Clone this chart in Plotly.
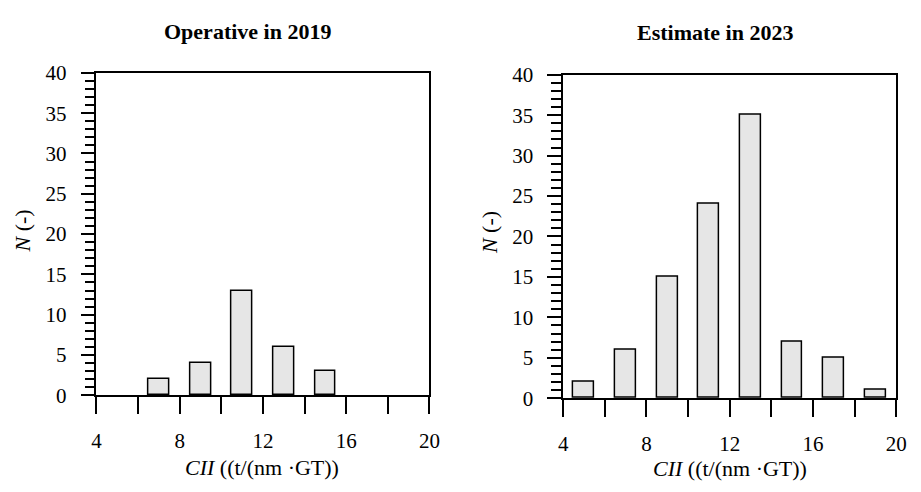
import plotly.graph_objects as go

W, H = 921, 492

# Data
bins_2019 = [7, 9, 11, 13, 15]
counts_2019 = [2, 4, 13, 6, 3]
bins_2023 = [5, 7, 9, 11, 13, 15, 17, 19]
counts_2023 = [2, 6, 15, 24, 35, 7, 5, 1]
x_tickvals = [4, 6, 8, 10, 12, 14, 16, 18, 20]
x_ticktext = ["4", "", "8", "", "12", "", "16", "", "20"]
titles = ["Operative in 2019", "Estimate in 2023"]

FONT = "Liberation Serif, Times New Roman, serif"

def px(x):
    return x / W

def py(y):
    return 1 - y / H

fig = go.Figure()
bar_style = dict(marker=dict(color="#e6e6e6", line=dict(color="black", width=1.5)),
                 width=1.0, showlegend=False)
fig.add_trace(go.Bar(x=bins_2019, y=counts_2019, xaxis="x", yaxis="y", **bar_style))
fig.add_trace(go.Bar(x=bins_2023, y=counts_2023, xaxis="x2", yaxis="y2", **bar_style))

xcommon = dict(range=[4, 20], tickvals=x_tickvals, ticktext=x_ticktext,
               ticks="outside", ticklen=17, tickwidth=1.5, tickcolor="black",
               ticklabelstandoff=9,
               showline=True, linecolor="black", linewidth=1.5, mirror=True,
               showgrid=False, zeroline=False,
               tickfont=dict(family=FONT, size=21, color="black"))
ycommon = dict(range=[0, 40], dtick=5, tick0=0,
               ticks="outside", ticklen=14, tickwidth=1.5, tickcolor="black",
               ticklabelstandoff=10,
               minor=dict(dtick=1, ticks="outside", ticklen=10, tickwidth=1.5, tickcolor="black"),
               showline=True, linecolor="black", linewidth=1.5, mirror=True,
               showgrid=False, zeroline=False,
               tickfont=dict(family=FONT, size=21, color="black"))

fig.update_layout(
    width=W, height=H,
    margin=dict(l=0, r=0, t=0, b=0),
    paper_bgcolor="white", plot_bgcolor="white",
    bargap=0,
    xaxis=dict(domain=[px(93), px(432)], anchor="y", **xcommon),
    yaxis=dict(domain=[py(403), py(64)], anchor="x", **ycommon),
    xaxis2=dict(domain=[px(568), px(907)], anchor="y2", **xcommon),
    yaxis2=dict(domain=[py(406), py(66)], anchor="x2", **ycommon),
)

ann = []
# Subplot titles
ann.append(dict(text="<b>" + titles[0] + "</b>", x=px(247), y=py(20)))
ann.append(dict(text="<b>" + titles[1] + "</b>", x=px(723), y=py(22)))
# X axis titles
xt = "<i>CII</i> ((t/(nm ·GT))"
ann.append(dict(text=xt, x=px(262), y=py(479)))
ann.append(dict(text=xt, x=px(738), y=py(480)))
# Y axis titles
yt = "<i>N</i> (-)"
ann.append(dict(text=yt, x=px(18), y=py(230), textangle=-90))
ann.append(dict(text=yt, x=px(493), y=py(232), textangle=-90))
for a in ann:
    a.update(xref="paper", yref="paper", showarrow=False,
             xanchor="center", yanchor="middle",
             font=dict(family=FONT, size=22, color="black"))
fig.update_layout(annotations=ann)

fig.write_html("out.html")
